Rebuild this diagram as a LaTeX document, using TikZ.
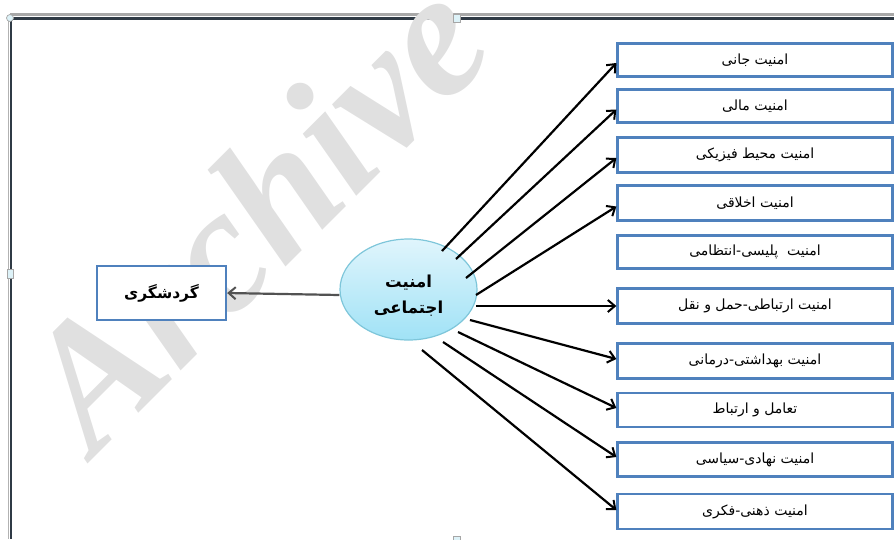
\documentclass[tikz,border=0pt]{standalone}
\usepackage{fontspec}
\newfontfamily\arabicfont[Script=Arabic]{DejaVu Sans}
\newfontfamily\wmfont{Liberation Serif}
\TeXXeTstate=1
\usetikzlibrary{arrows.meta,shapes.geometric,calc}
\definecolor{boxblue}{HTML}{4F81BD}
\definecolor{wmgray}{HTML}{E0E0E0}
\definecolor{framedark}{HTML}{2F3A45}
\definecolor{framegray}{HTML}{A8A8A8}
\definecolor{ellline}{HTML}{7EC6DA}
\definecolor{elltop}{HTML}{E0F5FC}
\definecolor{ellbot}{HTML}{A0E2F6}
\definecolor{handlefill}{HTML}{DDF2F8}
\tikzset{
  rbox/.style={draw=boxblue, line width=2.3pt, fill=white, minimum width=275pt, minimum height=33pt, inner sep=0pt,
    font=\arabicfont\fontsize{14}{16}\selectfont},
  lbox/.style={draw=boxblue, line width=2.3pt, fill=white, minimum width=129pt, minimum height=54pt, inner sep=0pt,
    font=\arabicfont\bfseries\fontsize{15.5}{18}\selectfont},
  ell/.style={ellipse, draw=ellline, line width=1.2pt, top color=elltop, bottom color=ellbot,
    minimum width=137pt, minimum height=101pt, inner sep=0pt},
  elltext/.style={align=center, inner sep=0pt, font=\arabicfont\bfseries\fontsize{16.5}{26}\selectfont},
  arr/.style={line width=2.2pt, black, -{Straight Barb[length=7pt,width=12pt,line width=2pt]}},
  larr/.style={line width=2.2pt, black!68, -{Straight Barb[length=7pt,width=12pt,line width=2pt]}},
  handle/.style={draw=gray!70, fill=handlefill, line width=0.7pt}
}
\begin{document}
\begin{tikzpicture}[x=1pt,y=-1pt]
\useasboundingbox (0,0) rectangle (894,539);
% frame
\draw[framegray, line width=3.5pt] (10,14.5) -- (894,14.5);
\draw[framedark, line width=2.2pt] (10,18.5) -- (894,18.5);
\draw[gray!60, line width=1.2pt] (8.6,18) -- (8.6,539);
\draw[framedark, line width=2.2pt] (10.8,18) -- (10.8,539);
% watermark
\node[wmgray, rotate=45, font=\wmfont\bfseries\itshape\fontsize{178}{178}\selectfont] (wm) at (254,212) {Archive};
% handles
\node[handle, circle, minimum size=7pt, inner sep=0pt] (h1) at (10,18) {};
\node[handle, rectangle, minimum width=7pt, minimum height=8pt, inner sep=0pt] (h2) at (457,18) {};
\node[handle, rectangle, minimum width=6pt, minimum height=9pt, inner sep=0pt] (h3) at (10,274) {};
\node[handle, rectangle, minimum width=7pt, minimum height=8pt, inner sep=0pt] (h4) at (457,540) {};
% right boxes
\node[rbox] (b1)  at (755,60)  {\beginR امنیت جانی\endR};
\node[rbox] (b2)  at (755,106) {\beginR امنیت مالی\endR};
\node[rbox, minimum height=35pt] (b3)  at (755,155) {\beginR امنیت محیط فیزیکی\endR};
\node[rbox, minimum height=35pt] (b4)  at (755,203) {\beginR امنیت اخلاقی\endR};
\node[rbox] (b5)  at (755,252) {\beginR امنیت\ \ پلیسی-انتظامی\endR};
\node[rbox, minimum height=35pt] (b6)  at (755,306) {\beginR امنیت ارتباطی-حمل و نقل\endR};
\node[rbox, minimum height=35pt] (b7)  at (755,361) {\beginR امنیت بهداشتی-درمانی\endR};
\node[rbox, minimum height=34pt] (b8)  at (755,410) {\beginR تعامل و ارتباط\endR};
\node[rbox, minimum height=34pt] (b9)  at (755,459.5) {\beginR امنیت نهادی-سیاسی\endR};
\node[rbox, minimum height=35pt] (b10) at (755,511.5) {\beginR امنیت ذهنی-فکری\endR};
% center ellipse and left box
\node[ell] (c) at (408.5,289.5) {};
\node[elltext] (ct) at (408.5,296) {\beginR امنیت\endR\\\beginR اجتماعی\endR};
\node[lbox] (g) at (161.5,293) {\beginR گردشگری\endR};
% start points on the ellipse
\coordinate (s1) at (442,251);
\coordinate (s2) at (456,259);
\coordinate (s3) at (466,278);
\coordinate (s4) at (476,295);
\coordinate (s6) at (476,306);
\coordinate (s7) at (470,320);
\coordinate (s8) at (458,332);
\coordinate (s9) at (443,342);
\coordinate (s10) at (422,350);
% arrows
\draw[arr] (s1) -- ($(b1.west)+(0,3)$);
\draw[arr] (s2) -- ($(b2.west)+(0,3.5)$);
\draw[arr] (s3) -- ($(b3.west)+(0,3)$);
\draw[arr] (s4) -- ($(b4.west)+(0,3.5)$);
\draw[arr] (s6) -- (b6.west);
\draw[arr] (s7) -- ($(b7.west)+(0,-2)$);
\draw[arr] (s8) -- ($(b8.west)+(0,-2)$);
\draw[arr] (s9) -- ($(b9.west)+(0,-2.5)$);
\draw[arr] (s10) -- ($(b10.west)+(0,-1.5)$);
\draw[larr] (c.west |- 0,295) -- (g.east);
\end{tikzpicture}
\end{document}
